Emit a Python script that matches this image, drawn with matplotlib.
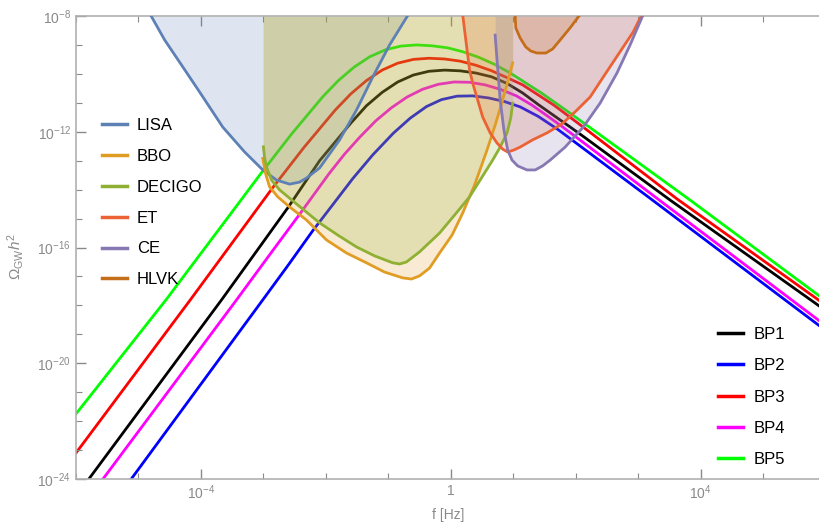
import numpy as np
import matplotlib.pyplot as plt
from matplotlib.lines import Line2D

plt.rcParams['font.family'] = ['Liberation Sans', 'DejaVu Sans']
plt.rcParams['mathtext.fontset'] = 'custom'
plt.rcParams['mathtext.rm'] = 'Liberation Sans'
plt.rcParams['mathtext.it'] = 'Liberation Sans:italic'

###########################################
# Benchmark point spectra (log10 f, log10 Omega h^2)

bp1_lf = [-6.0, -3.67, -3.10, -2.60, -2.10, -1.85, -1.60, -1.35, -1.10, -0.85, -0.60, -0.35,
          -0.10, 0.15, 0.40, 0.65, 0.90, 1.15, 1.40, 1.90, 2.12, 3.51, 5.91]
bp1_lo = [-24.60, -17.81, -16.10, -14.60, -13.00, -12.35, -11.70, -11.10, -10.64, -10.28, -10.04, -9.91,
          -9.87, -9.895, -9.97, -10.10, -10.33, -10.66, -11.06, -11.82, -12.16, -14.36, -18.04]

bp2_lf = [-6.0, -3.01, -2.60, -2.21, -1.90, -1.57, -1.25, -0.92, -0.65, -0.39, -0.15, 0.10,
          0.35, 0.60, 0.85, 1.11, 1.40, 1.70, 2.00, 3.19, 5.91]
bp2_lo = [-26.60, -17.81, -16.60, -15.42, -14.55, -13.62, -12.80, -12.05, -11.53, -11.13, -10.89, -10.77,
          -10.76, -10.83, -10.95, -11.14, -11.47, -11.90, -12.38, -14.30, -18.72]

bp3_lf = [-6.0, -4.16, -3.35, -2.85, -2.35, -1.85, -1.60, -1.35, -1.10, -0.85, -0.60, -0.35,
          -0.10, 0.15, 0.40, 0.65, 0.90, 1.15, 1.65, 2.12, 3.62, 5.91]
bp3_lo = [-23.10, -17.78, -15.40, -13.93, -12.54, -11.25, -10.69, -10.23, -9.87, -9.63, -9.50, -9.46,
          -9.485, -9.56, -9.70, -9.89, -10.13, -10.38, -11.08, -11.84, -14.32, -17.85]

bp4_lf = [-6.0, -3.43, -2.90, -2.42, -1.95, -1.70, -1.45, -1.20, -0.95, -0.70, -0.45, -0.20,
          0.05, 0.30, 0.55, 0.80, 1.05, 1.30, 1.55, 1.80, 2.20, 3.30, 5.91]
bp4_lo = [-25.25, -17.81, -16.25, -14.85, -13.45, -12.77, -12.17, -11.62, -11.17, -10.80, -10.53, -10.36,
          -10.28, -10.29, -10.38, -10.54, -10.76, -11.08, -11.46, -11.85, -12.50, -14.30, -18.55]

bp5_lf = [-6.0, -4.56, -3.55, -3.05, -2.55, -2.05, -1.80, -1.55, -1.30, -1.05, -0.80, -0.55,
          -0.30, -0.05, 0.20, 0.45, 0.70, 0.95, 1.45, 1.95, 3.83, 5.91]
bp5_lo = [-21.75, -17.81, -14.91, -13.47, -12.08, -10.79, -10.23, -9.77, -9.41, -9.17, -9.04, -9.00,
          -9.03, -9.10, -9.24, -9.43, -9.67, -9.97, -10.66, -11.42, -14.36, -17.69]

bp_names = ["BP1", "BP2", "BP3", "BP4", "BP5"]
bp_colors = ["black", "blue", "red", "magenta", "lime"]

###########################################
# Detector sensitivity curves (log10 f, log10 Omega h^2)

lisa_lf = [-4.81, -4.58, -4.29, -4.02, -3.65, -3.30, -3.01, -2.79, -2.58, -2.42, -2.31, -2.10,
           -1.78, -1.51, -1.25, -0.98, -0.68]
lisa_lo = [-7.95, -8.83, -9.76, -10.63, -11.84, -12.70, -13.32, -13.67, -13.81, -13.74, -13.60, -13.25,
           -12.28, -11.25, -10.11, -9.00, -7.95]

bbo_lf = [-3.01, -2.96, -2.90, -2.77, -2.58, -2.31, -1.99, -1.67, -1.35, -1.06, -0.77, -0.63,
          -0.50, -0.34, -0.18, 0.02, 0.19, 0.38, 0.58, 0.72, 0.83, 0.91, 0.99]
bbo_lo = [-12.92, -13.49, -13.91, -14.25, -14.60, -15.05, -15.74, -16.19, -16.53, -16.85, -17.05, -17.09,
          -16.98, -16.71, -16.19, -15.57, -14.81, -13.84, -12.63, -11.70, -10.90, -10.28, -9.62]

decigo_lf = [-3.0, -2.98, -2.95, -2.87, -2.74, -2.45, -2.10, -1.81, -1.51, -1.22, -0.93, -0.82,
             -0.71, -0.50, -0.18, 0.06, 0.30, 0.51, 0.67, 0.79, 0.90, 0.96, 0.99]
decigo_lo = [-12.52, -12.91, -13.22, -13.67, -14.01, -14.53, -15.15, -15.57, -15.98, -16.29, -16.53, -16.57,
             -16.50, -16.15, -15.50, -14.88, -14.25, -13.53, -12.98, -12.53, -12.04, -11.52, -11.01]

et_lf = [0.19, 0.22, 0.26, 0.30, 0.35, 0.43, 0.51, 0.63, 0.74, 0.83, 0.91, 1.01, 1.11, 1.31,
         1.54, 1.78, 2.02, 2.23, 2.44, 2.60, 2.76, 2.92, 3.06]
et_lo = [-7.95, -8.48, -9.17, -9.86, -10.32, -10.90, -11.49, -12.04, -12.39, -12.60, -12.70, -12.63, -12.53, -12.28,
         -12.04, -11.73, -11.25, -10.80, -10.11, -9.59, -9.07, -8.55, -7.95]

ce_lf = [0.71, 0.74, 0.79, 0.85, 0.91, 0.98, 1.07, 1.22, 1.35, 1.47, 1.59, 1.83, 2.12, 2.39,
         2.66, 2.87, 3.08]
ce_lo = [-8.66, -9.52, -10.90, -11.94, -12.63, -12.98, -13.18, -13.32, -13.32, -13.18, -12.98, -12.53, -11.84, -11.01,
         -9.97, -9.00, -7.95]

hlvk_lf = [1.03, 1.04, 1.11, 1.20, 1.28, 1.38, 1.52, 1.63, 1.75, 1.91, 2.07]
hlvk_lo = [-7.95, -8.41, -8.76, -9.07, -9.21, -9.28, -9.28, -9.14, -8.83, -8.41, -7.95]

det_names = ["LISA", "BBO", "DECIGO", "ET", "CE", "HLVK"]
det_colors = ["#5E81B5", "#E19C24", "#8FB032", "#EB6235", "#8778B3", "#C56E1A"]

###########################################

bp_data = [(bp1_lf, bp1_lo), (bp2_lf, bp2_lo), (bp3_lf, bp3_lo), (bp4_lf, bp4_lo), (bp5_lf, bp5_lo)]
det_data = [(lisa_lf, lisa_lo), (bbo_lf, bbo_lo), (decigo_lf, decigo_lo),
            (et_lf, et_lo), (ce_lf, ce_lo), (hlvk_lf, hlvk_lo)]

gray = "#8a8a8a"
xmin, xmax = 1e-6, 10**5.91
ymin, ymax = 1e-24, 1e-8

fig = plt.figure(figsize=(8.2, 5.23), dpi=100)
ax = fig.add_axes([76 / 820, 44 / 523, 1 - 76 / 820, 463 / 523])

bp_handles = []
for (lf, lo), c, name in zip(bp_data, bp_colors, bp_names):
    ax.plot(10**np.array(lf), 10**np.array(lo), color=c, lw=2, zorder=1)
    bp_handles.append(Line2D([], [], color=c, lw=2.5, label=name))

det_handles = []
for (lf, lo), c, name in zip(det_data, det_colors, det_names):
    f = 10**np.array(lf)
    om = 10**np.array(lo)
    ax.fill_between(f, om, ymax, color=c, alpha=0.2, lw=0, zorder=2)
    ax.plot(f, om, color=c, lw=2, zorder=3)
    det_handles.append(Line2D([], [], color=c, lw=2.5, label=name))

ax.set_xscale("log")
ax.set_yscale("log")
ax.set_xlim(xmin, xmax)
ax.set_ylim(ymin, ymax)

ax.set_xticks([1e-4, 1, 1e4])
ax.set_xticklabels([r"$10^{-4}$", "1", r"$10^{4}$"])
ax.set_xticks([10.0**k for k in range(-6, 6)], minor=True)
ax.set_yticks([1e-24, 1e-20, 1e-16, 1e-12, 1e-8])
ax.set_yticklabels([r"$10^{-24}$", r"$10^{-20}$", r"$10^{-16}$", r"$10^{-12}$", r"$10^{-8}$"])
ax.set_yticks([10.0**k for k in range(-24, -7)], minor=True)
ax.xaxis.set_minor_formatter(plt.NullFormatter())
ax.yaxis.set_minor_formatter(plt.NullFormatter())

ax.tick_params(which="both", direction="in", colors=gray, labelcolor=gray, top=True, right=False)
ax.tick_params(which="major", length=7, width=1, labelsize=10)
ax.tick_params(which="minor", length=4, width=0.8)
for s in ["left", "bottom", "top"]:
    ax.spines[s].set_color("#b0b0b0")
    ax.spines[s].set_linewidth(1.2)
ax.spines["right"].set_visible(False)

ax.set_xlabel("f [Hz]", color=gray, fontsize=10)
ax.set_ylabel(r"$\Omega_{\mathrm{GW}}h^2$", color=gray, fontsize=11)
ax.yaxis.set_label_coords(-0.067, 0.48)

leg1 = ax.legend(handles=det_handles, loc="upper left", bbox_to_anchor=(0.0146, 0.812),
                 frameon=False, fontsize=12, handlelength=1.5, labelspacing=0.95, handletextpad=0.6)
ax.add_artist(leg1)
ax.legend(handles=bp_handles, loc="upper left", bbox_to_anchor=(0.843, 0.361),
          frameon=False, fontsize=12, handlelength=1.5, labelspacing=0.98, handletextpad=0.6)

fig.savefig("out.png", dpi=100)
